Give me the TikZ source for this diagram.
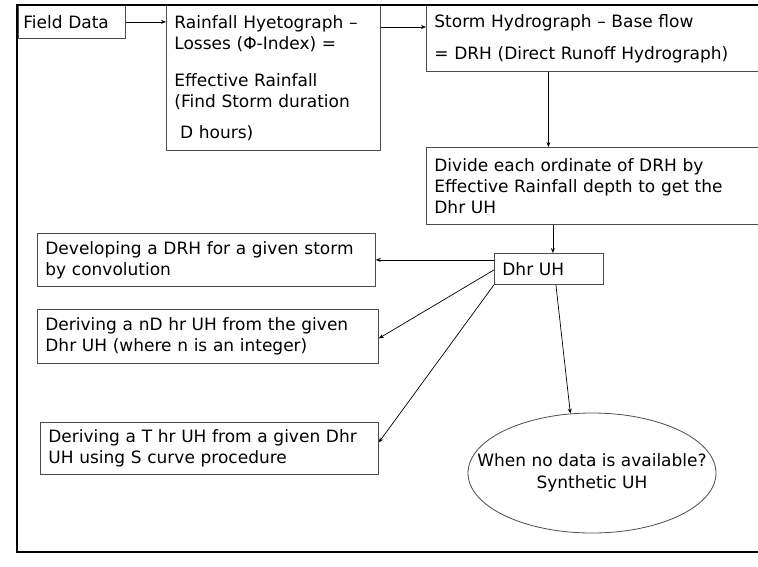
\documentclass[tikz,border=0pt]{standalone}
\usepackage{fontspec}
\setmainfont{DejaVu Sans}
\usepackage{tikz}
\usetikzlibrary{arrows.meta,positioning,shapes.geometric}
\tikzset{
  uhblock/.style={draw=black!70, line width=0.8pt, anchor=north west, align=left, inner xsep=8pt, inner ysep=0pt, font=\fontsize{17}{21}\selectfont},
  uhoval/.style={draw=black!70, line width=0.8pt, ellipse, align=center, inner xsep=-45pt, inner ysep=0pt, minimum width=248pt, minimum height=120pt, font=\fontsize{17}{22}\selectfont},
  uharrow/.style={-{Stealth[length=5pt,width=4pt]}, line width=0.7pt},
  uhframe/.style={line width=2.6pt}
}
\begin{document}
\begin{tikzpicture}[x=1pt, y=-1pt]
\useasboundingbox (0,0) rectangle (758,566);
\node[uhblock, inner xsep=5pt, text width=97pt, minimum height=33pt] (field) at (18,5) {Field Data};
\node[uhblock, text width=198pt, minimum height=145pt] (rain) at (166,5) {Rainfall Hyetograph –\\Losses (Φ-Index) =\\[16pt]Effective Rainfall\\(Find Storm duration\\[10pt]\ D hours)};
\node[uhblock, text width=318pt, minimum height=66pt] (storm) at (426,5) {Storm Hydrograph – Base flow\\[11pt]= DRH (Direct Runoff Hydrograph)};
\node[uhblock, text width=318pt, minimum height=77pt] (divide) at (426,147) {Divide each ordinate of DRH by\\Effective Rainfall depth to get the\\Dhr UH};
\node[uhblock, text width=93pt, minimum height=31pt] (dhr) at (494,253) {Dhr UH};
\node[uhblock, text width=322pt, minimum height=53pt] (dev) at (37,233) {Developing a DRH for a given storm\\by convolution};
\node[uhblock, text width=325pt, minimum height=54pt] (nd) at (37,309) {Deriving a nD hr UH from the given\\Dhr UH (where n is an integer)};
\node[uhblock, text width=322pt, minimum height=52pt] (tproc) at (40,422) {Deriving a T hr UH from a given Dhr\\UH using S curve procedure};
\node[uhoval] (syn) at (592,473) {When no data is available?\\Synthetic UH};
\draw[uhframe] (760,5) -- (17,5) -- (17,552) -- (760,552);
\draw[uharrow] (field.east) -- (field.east -| rain.west);
\draw[uharrow] ([yshift=-22pt]rain.north east) -- ([yshift=-22pt]rain.north east -| storm.west);
\draw[uharrow] ([xshift=-45pt]storm.south) -- ([xshift=-45pt]storm.south |- divide.north);
\draw[uharrow] ([xshift=4pt]divide.south -| dhr.north) -- ([xshift=4pt]dhr.north);
\draw[uharrow] ([yshift=9pt]dhr.west) -- (dev.east);
\draw[uharrow] ([yshift=-1pt]dhr.west) -- ([yshift=-2pt]nd.east);
\draw[uharrow] (dhr.south west) -- ([yshift=6pt]tproc.east);
\draw[uharrow] ([xshift=7pt]dhr.south) -- (syn.110);
\end{tikzpicture}
\end{document}
